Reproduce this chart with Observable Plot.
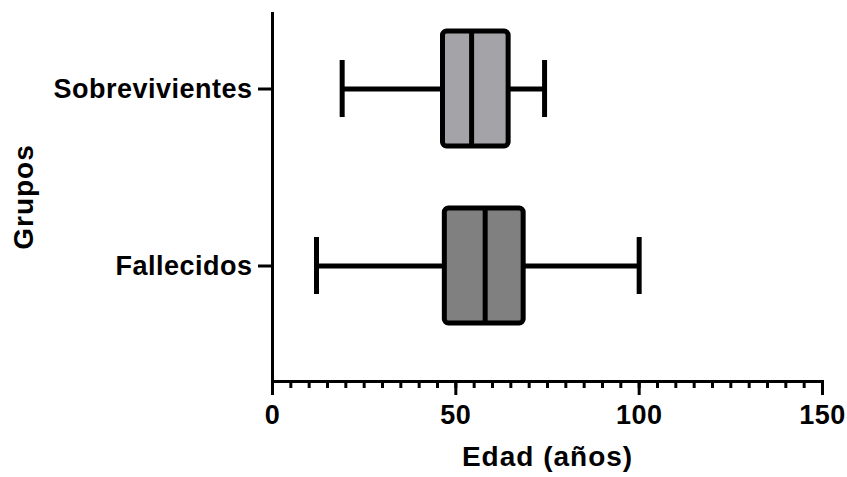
<!DOCTYPE html>
<html>
<head>
<meta charset="utf-8">
<script src="https://cdn.jsdelivr.net/npm/d3@7"></script>
<script src="https://cdn.jsdelivr.net/npm/@observablehq/plot@0.6"></script>
<style>
  html, body { margin: 0; padding: 0; background: #fff; }
  svg { display: block; }
  #chart svg text { font-size: 27px; font-weight: bold; letter-spacing: 0.5px; fill: #000; }
  #chart svg g.titulo text { font-size: 28px; letter-spacing: 1px; }
</style>
</head>
<body>
<div id="chart"></div>
<script>
const grupos = ["Sobrevivientes", "Fallecidos"];
const minimos = [19, 12];
const q1 = [46.5, 47];
const medianas = [54.3, 58];
const q3 = [64.4, 68.5];
const maximos = [74.2, 100];
const rellenos = ["#a3a3a8", "#808080"];
const ticksMayores = [0, 50, 100, 150];
const ticksMenores = d3.range(0, 151, 5);
const tituloX = "Edad (años)";
const tituloY = "Grupos";

const datos = grupos.map((g, i) => ({
  grupo: g, min: minimos[i], q1: q1[i], med: medianas[i], q3: q3[i], max: maximos[i], fill: rellenos[i]
}));

const font = "'Liberation Sans', Arial, sans-serif";

const chart = Plot.plot({
  width: 847,
  height: 477,
  marginLeft: 272,
  marginRight: 25,
  marginTop: 12,
  marginBottom: 96,
  style: { fontFamily: font, fontWeight: "bold", color: "#000", background: "#fff" },
  x: { domain: [0, 150] },
  y: { domain: grupos, range: [0, 354], padding: 0 },
  marks: [
    Plot.axisX({ ticks: ticksMenores, tickSize: 7, strokeWidth: 3, text: null, label: null }),
    Plot.axisX({ ticks: ticksMayores, tickSize: 14, strokeWidth: 3, tickPadding: 9,
      label: null, tickFormat: d => String(d) }),
    Plot.axisY({ tickSize: 14, strokeWidth: 3, tickPadding: 6, label: null }),
    Plot.text([tituloX], { text: d => d, frameAnchor: "bottom", dy: 84, className: "titulo" }),
    Plot.text([tituloY], { text: d => d, frameAnchor: "left", textAnchor: "middle", dx: -248, rotate: -90, className: "titulo" }),
    Plot.ruleX([0], { strokeWidth: 3, stroke: "#000" }),
    Plot.frame({ anchor: "bottom", strokeWidth: 3, stroke: "#000" }),
    Plot.ruleY(datos, { y: "grupo", x1: "min", x2: "max", stroke: "#000", strokeWidth: 5 }),
    Plot.barX(datos, { y: "grupo", x1: "q1", x2: "q3", fill: "fill", stroke: "#000", strokeWidth: 5,
      insetTop: 31, insetBottom: 31, rx: 4 }),
    Plot.tickX(datos, { y: "grupo", x: "med", stroke: "#000", strokeWidth: 5, insetTop: 31, insetBottom: 31 }),
    Plot.tickX(datos, { y: "grupo", x: "min", stroke: "#000", strokeWidth: 5, insetTop: 60, insetBottom: 60 }),
    Plot.tickX(datos, { y: "grupo", x: "max", stroke: "#000", strokeWidth: 5, insetTop: 60, insetBottom: 60 })
  ]
});
document.getElementById("chart").appendChild(chart);
</script>
</body>
</html>
